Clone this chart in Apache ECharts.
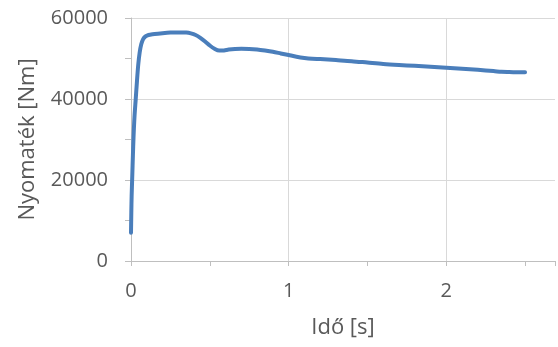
<!DOCTYPE html>
<html>
<head>
<meta charset="utf-8">
<script src="https://cdn.jsdelivr.net/npm/echarts@6/dist/echarts.min.js"></script>
<style>html,body{margin:0;padding:0;background:#fff}#c{width:558px;height:347px}</style>
</head>
<body>
<div id="c"></div>
<script>
const timeS = [0, 0.002, 0.004, 0.008, 0.012, 0.016, 0.022, 0.03, 0.038, 0.046, 0.055, 0.065, 0.077, 0.09, 0.105, 0.12, 0.15, 0.2, 0.25, 0.3, 0.35, 0.38, 0.41, 0.44, 0.47, 0.5, 0.53, 0.56, 0.59, 0.62, 0.66, 0.7, 0.75, 0.8, 0.85, 0.9, 0.95, 1.0, 1.05, 1.1, 1.15, 1.2, 1.3, 1.4, 1.5, 1.6, 1.7, 1.8, 1.9, 2.0, 2.1, 2.2, 2.3, 2.35, 2.4, 2.45, 2.5];
const torqueNm = [7000, 12000, 16000, 21000, 26000, 30500, 35500, 40000, 44500, 48500, 51500, 53500, 54800, 55400, 55700, 55850, 56050, 56250, 56400, 56450, 56400, 56200, 55800, 55100, 54200, 53200, 52400, 51950, 52000, 52200, 52350, 52400, 52350, 52200, 51950, 51650, 51250, 50850, 50450, 50150, 49950, 49850, 49600, 49350, 49000, 48650, 48400, 48200, 47950, 47700, 47450, 47200, 46900, 46700, 46650, 46620, 46600];
const xTickLabels = [0, 1, 2];
const yTicks = [0, 20000, 40000, 60000];

const data = timeS.map((t, i) => [t, torqueNm[i]]);
const font = '"Open Sans", sans-serif';
const chart = echarts.init(document.getElementById('c'), null, {renderer: 'canvas'});
chart.setOption({
  animation: false,
  grid: {left: 131, right: 0, top: 18, bottom: 86, containLabel: false},
  xAxis: {
    type: 'value', min: 0, max: 2.69, interval: 0.5,
    name: 'Idő [s]', nameLocation: 'middle', nameGap: 56,
    nameTextStyle: {fontFamily: font, fontSize: 22, color: '#595959'},
    axisLine: {show: true, onZero: false, lineStyle: {color: '#bfbfbf', width: 1}},
    axisTick: {show: true, length: 5, lineStyle: {color: '#bfbfbf'}},
    axisLabel: {
      fontFamily: font, fontSize: 20, color: '#595959', margin: 20,
      formatter: v => (xTickLabels.indexOf(v) >= 0 ? String(v) : '')
    },
    splitLine: {show: true, showMaxLine: false, lineStyle: {color: ['#d9d9d9', 'rgba(0,0,0,0)'], width: 1}}
  },
  yAxis: {
    type: 'value', min: yTicks[0], max: yTicks[yTicks.length - 1], interval: 20000,
    name: 'Nyomaték [Nm]', nameLocation: 'middle', nameGap: 92,
    nameTextStyle: {fontFamily: font, fontSize: 22, color: '#595959'},
    axisLine: {show: true, lineStyle: {color: '#bfbfbf', width: 1}},
    axisTick: {show: true, length: 6, lineStyle: {color: '#bfbfbf'}},
    minorTick: {show: true, splitNumber: 2, length: 6, lineStyle: {color: '#bfbfbf'}},
    axisLabel: {fontFamily: font, fontSize: 20, color: '#595959', margin: 23,
      formatter: v => (yTicks.indexOf(v) >= 0 ? String(v) : '')},
    splitLine: {show: true, lineStyle: {color: '#d9d9d9', width: 1}}
  },
  series: [{
    type: 'line', data: data, showSymbol: false, smooth: 0.3,
    lineStyle: {color: '#4a7ebb', width: 4, cap: 'round', join: 'round'}
  }]
});
</script>
</body>
</html>
